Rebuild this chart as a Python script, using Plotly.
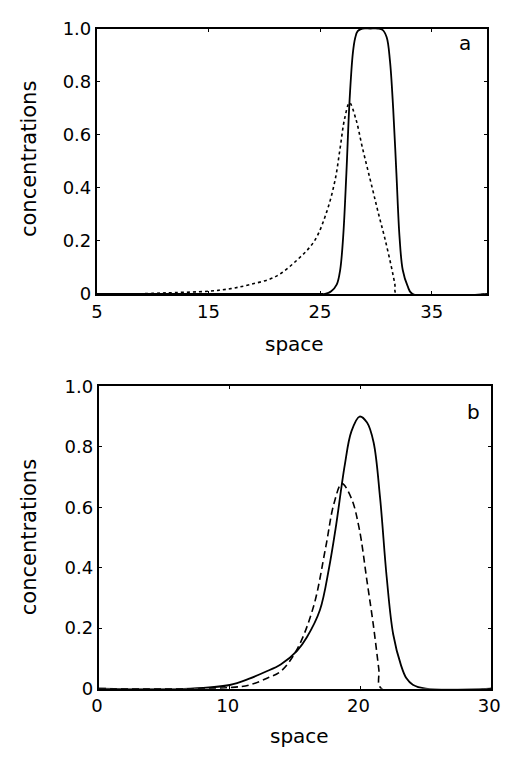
import plotly.graph_objects as go

# Panel a: solid and dotted concentration profiles
a_solid_x = [5, 20, 25.0, 25.45, 26.0, 26.5, 26.8, 27.07, 27.36, 27.64, 27.94, 28.15, 28.37, 28.8, 29.5, 30.2, 30.6, 30.97, 31.26, 31.55, 31.84, 32.12, 32.41, 32.84, 33.27, 40]
a_solid_y = [0, 0, 0, 0.0, 0.01, 0.036, 0.09, 0.215, 0.456, 0.726, 0.908, 0.965, 0.99, 1.0, 1.0, 1.0, 0.995, 0.967, 0.88, 0.70, 0.456, 0.215, 0.09, 0.03, 0.0, 0]

a_dot_x = [5, 8, 10, 12, 15, 17, 18.7, 21.0, 23.0, 24.5, 25.6, 26.35, 26.8, 27.2, 27.64, 28.2, 28.8, 29.67, 30.25, 30.8, 31.4, 31.7, 31.85, 40]
a_dot_y = [0, 0, 0.002, 0.005, 0.01, 0.02, 0.035, 0.065, 0.13, 0.2, 0.31, 0.43, 0.55, 0.66, 0.72, 0.66, 0.55, 0.40, 0.30, 0.21, 0.10, 0.037, 0, 0]

# Panel b: solid and dashed concentration profiles
b_solid_x = [0, 7, 10.0, 11.5, 12.7, 13.9, 15.15, 15.9, 16.9, 17.6, 18.1, 18.8, 19.3, 19.93, 20.5, 21.0, 21.5, 22.0, 22.5, 23.1, 23.5, 24.0, 25.0, 30]
b_solid_y = [0, 0, 0.012, 0.033, 0.055, 0.08, 0.125, 0.17, 0.26, 0.40, 0.53, 0.74, 0.85, 0.90, 0.88, 0.815, 0.63, 0.37, 0.18, 0.077, 0.035, 0.013, 0, 0]

b_dash_x = [0, 7.8, 10.2, 11.5, 12.9, 13.9, 15.15, 16.4, 17.35, 17.96, 18.58, 19.3, 19.9, 20.5, 21.0, 21.4, 21.6, 30]
b_dash_y = [0, 0, 0.004, 0.012, 0.035, 0.057, 0.13, 0.27, 0.47, 0.61, 0.678, 0.63, 0.53, 0.355, 0.205, 0.065, 0, 0]

a_xticks = [5, 15, 25, 35]
b_xticks = [0, 10, 20, 30]
y_ticks = [0, 0.2, 0.4, 0.6, 0.8, 1.0]
y_ticktext = ["0", "0.2", "0.4", "0.6", "0.8", "1.0"]

W, H = 509, 757
FONT = "DejaVu Sans"
EPS = 1e-4

fig = go.Figure()
fig.add_trace(go.Scatter(x=a_dot_x, y=a_dot_y, mode="lines", xaxis="x", yaxis="y",
                         line=dict(color="black", width=1.6, dash="3px,3px", shape="spline", smoothing=1.0)))
fig.add_trace(go.Scatter(x=a_solid_x, y=a_solid_y, mode="lines", xaxis="x", yaxis="y",
                         line=dict(color="black", width=1.8, shape="spline", smoothing=1.0)))
fig.add_trace(go.Scatter(x=b_dash_x, y=b_dash_y, mode="lines", xaxis="x2", yaxis="y2",
                         line=dict(color="black", width=1.6, dash="7px,4px", shape="spline", smoothing=1.0)))
fig.add_trace(go.Scatter(x=b_solid_x, y=b_solid_y, mode="lines", xaxis="x2", yaxis="y2",
                         line=dict(color="black", width=1.8, shape="spline", smoothing=1.0)))

axis_common = dict(showline=True, linecolor="black", linewidth=2, mirror="allticks",
                   ticks="inside", ticklen=3, tickcolor="black", showgrid=False, zeroline=False,
                   tickfont=dict(family=FONT, size=18, color="black"))

fig.update_layout(
    width=W, height=H,
    margin=dict(l=0, r=0, t=0, b=0),
    paper_bgcolor="white", plot_bgcolor="white",
    showlegend=False,
    xaxis=dict(domain=[92 / W, 496 / W], range=[5 - EPS, 40 + EPS], tickvals=a_xticks, anchor="y", **axis_common),
    yaxis=dict(domain=[1 - 291 / H, 1 - 18 / H], range=[0 - EPS, 1.0 + EPS], tickvals=y_ticks, ticktext=y_ticktext,
               anchor="x", **axis_common),
    xaxis2=dict(domain=[94 / W, 500 / W], range=[0 - EPS, 30 + EPS], tickvals=b_xticks, anchor="y2", **axis_common),
    yaxis2=dict(domain=[1 - 697 / H, 1 - 386 / H], range=[0 - EPS, 1.0 + EPS], tickvals=y_ticks, ticktext=y_ticktext,
                anchor="x2", **axis_common),
)
# keep the last x label of panel b inside the page
fig.update_xaxes(selector=dict(anchor="y2"), ticklabeloverflow="allow", ticklabelshift=-2)

def note(text, x, y, size=20, angle=0):
    fig.add_annotation(text=text, x=x / W, y=1 - y / H, xref="paper", yref="paper",
                       showarrow=False, textangle=angle, xanchor="center", yanchor="middle",
                       font=dict(family=FONT, size=size, color="black"))

note("concentrations", 22, 152, size=21, angle=-90)
note("concentrations", 22, 541, size=21, angle=-90)
note("space", 296, 342, size=20)
note("space", 302, 746, size=20)
note("a", 473, 33, size=20)
note("b", 482, 412, size=20)

# clip anything drawn past the figure edge so the page never scrolls
clip_js = (
    "document.documentElement.style.overflow='hidden';"
    "document.body.style.overflow='hidden';"
    "document.getElementById('{plot_id}').style.overflow='hidden';"
)
fig.write_html("out.html", post_script=clip_js)
